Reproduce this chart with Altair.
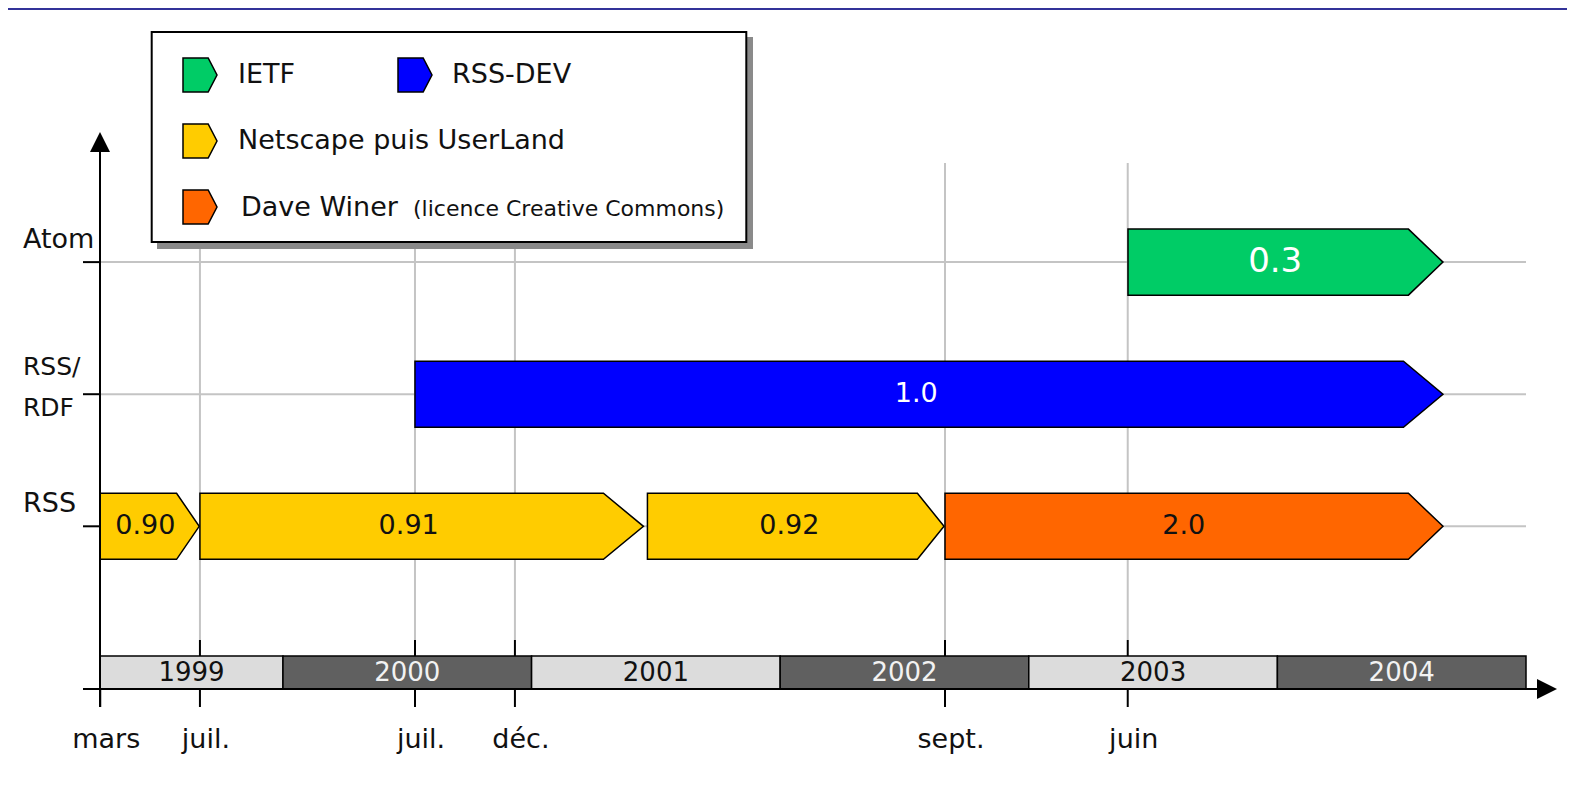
import altair as alt
import pandas as pd

# ---------------- data ----------------
row_names = ["RSS", "RSS/RDF", "Atom"]
row_index = [0, 1, 2]

versions = ["0.90", "0.91", "0.92", "2.0", "1.0", "0.3"]
version_rows = [0, 0, 0, 0, 1, 2]
owners = ["Netscape puis UserLand", "Netscape puis UserLand", "Netscape puis UserLand",
          "Dave Winer", "RSS-DEV", "IETF"]
starts = [1999.265, 1999.666, 2001.466, 2002.663, 2000.531, 2003.399]
shoulders = [1999.572, 2001.289, 2002.552, 2004.527, 2004.507, 2004.527]
ends = [1999.663, 2001.450, 2002.659, 2004.666, 2004.666, 2004.666]

owner_names = ["IETF", "RSS-DEV", "Netscape puis UserLand", "Dave Winer"]
owner_colors = ["#00CC66", "#0000FF", "#FFCC00", "#FF6600"]

tick_labels = ["mars", "juil.", "juil.", "déc.", "sept.", "juin"]
tick_pos = [1999.265, 1999.666, 2000.531, 2000.933, 2002.663, 2003.398]

years = [1999, 2000, 2001, 2002, 2003, 2004]
year_start = [1999.264, 2000, 2001, 2002, 2003, 2004]
year_end = [2000, 2001, 2002, 2003, 2004, 2005]

# ---------------- layout ----------------
X_DOMAIN = [1999.264, 2005.0]
Y_DOMAIN = [-1.2317, 2.985]
W, H = 1426, 557
HALF = 0.25
FONT = "DejaVu Sans"
GRID = "#c4c4c4"
INK = "#111111"

xs = alt.Scale(domain=X_DOMAIN, nice=False, zero=False)
ys = alt.Scale(domain=Y_DOMAIN, nice=False, zero=False)


def X(f):
    return alt.X(f, type="quantitative", scale=xs, axis=None)


def Y(f):
    return alt.Y(f, type="quantitative", scale=ys, axis=None)


rows_df = pd.DataFrame({"name": row_names, "row": row_index})
ticks_df = pd.DataFrame({"label": tick_labels, "pos": tick_pos})
grid_df = ticks_df.iloc[1:]
years_df = pd.DataFrame({"year": years, "start": year_start, "end": year_end})
years_df["mid"] = (years_df["start"] + years_df["end"]) / 2

recs = []
for v, r, o, s, sh, e in zip(versions, version_rows, owners, starts, shoulders, ends):
    recs.append(dict(version=v, owner=o, x=s, lo=r - HALF, hi=r + HALF))
    recs.append(dict(version=v, owner=o, x=sh, lo=r - HALF, hi=r + HALF))
    recs.append(dict(version=v, owner=o, x=e, lo=r, hi=r))
area_df = pd.DataFrame(recs)
lab_df = pd.DataFrame({"version": versions, "row": version_rows,
                       "mid": [(s + sh) / 2 for s, sh in zip(starts, shoulders)]})
one = pd.DataFrame({"k": [0]})

layers = []

# top blue strip
layers.append(alt.Chart(one).mark_rect(color="#333399").encode(
    x=alt.value(-92), x2=alt.value(1467), y=alt.value(-124), y2=alt.value(-122)))

# gridlines
layers.append(alt.Chart(grid_df).mark_rule(color=GRID, strokeWidth=2).encode(
    x=X("pos"), y=alt.value(31), y2=alt.value(508)))
layers.append(alt.Chart(rows_df).mark_rule(color=GRID, strokeWidth=2).encode(
    y=Y("row"), x=alt.value(0), x2=alt.value(W)))

# tick segments
layers.append(alt.Chart(grid_df).mark_rule(color="black", strokeWidth=2).encode(
    x=X("pos"), y=alt.value(508), y2=alt.value(524)))
layers.append(alt.Chart(ticks_df).mark_rule(color="black", strokeWidth=2).encode(
    x=X("pos"), y=alt.value(557), y2=alt.value(575)))
layers.append(alt.Chart(rows_df).mark_rule(color="black", strokeWidth=2).encode(
    y=Y("row"), x=alt.value(-17), x2=alt.value(0)))

# year band
layers.append(alt.Chart(years_df).mark_rect(stroke="black", strokeWidth=1.5).encode(
    x=X("start"), x2="end", y=alt.value(524), y2=alt.value(557),
    fill=alt.condition("datum.year % 2 == 1", alt.value("#dcdcdc"), alt.value("#606060"))))
layers.append(alt.Chart(years_df).mark_text(font=FONT, fontSize=26, baseline="middle").encode(
    x=X("mid"), y=alt.value(541), text="year:N",
    color=alt.condition("datum.year % 2 == 1", alt.value(INK), alt.value("#f2f2f2"))))

# arrows (bars)
layers.append(alt.Chart(area_df).mark_area(stroke="black", strokeWidth=1.5, opacity=1,
                                           interpolate="linear").encode(
    x=X("x"),
    y=alt.Y("lo:Q", scale=ys, axis=None, stack=None),
    y2="hi:Q",
    detail="version:N",
    fill=alt.Fill("owner:N", scale=alt.Scale(domain=owner_names, range=owner_colors), legend=None)))
layers.append(alt.Chart(lab_df).mark_text(font=FONT, baseline="middle", dx=7).encode(
    x=X("mid"), y=Y("row"), text="version:N",
    color=alt.condition("datum.version == '1.0' || datum.version == '0.3'",
                        alt.value("white"), alt.value(INK)),
    size=alt.condition("datum.version == '0.3'", alt.value(34), alt.value(27))))

# axes lines and arrowheads
layers.append(alt.Chart(one).mark_rule(color="black", strokeWidth=2).encode(
    x=alt.value(0), y=alt.value(18), y2=alt.value(575)))
layers.append(alt.Chart(one).mark_rule(color="black", strokeWidth=2).encode(
    x=alt.value(-17), x2=alt.value(1440), y=alt.value(557)))
layers.append(alt.Chart(one).mark_point(shape="M0,-1L1,1L-1,1Z", size=400, filled=True,
                                        color="black", opacity=1).encode(
    x=alt.value(0), y=alt.value(10)))
layers.append(alt.Chart(one).mark_point(shape="M1,0L-1,-1L-1,1Z", size=400, filled=True,
                                        color="black", opacity=1).encode(
    x=alt.value(1447), y=alt.value(557)))

# axis labels
layers.append(alt.Chart(ticks_df).mark_text(font=FONT, fontSize=27, baseline="alphabetic",
                                            dx=6, color=INK).encode(
    x=X("pos"), y=alt.value(616), text="label:N"))
layers.append(alt.Chart(rows_df).transform_filter("datum.name != 'RSS/RDF'").mark_text(
    font=FONT, fontSize=27, align="left", baseline="alphabetic", dy=-14, color=INK).encode(
    x=alt.value(-77), y=Y("row"), text="name:N"))
layers.append(alt.Chart(rows_df).transform_filter("datum.name == 'RSS/RDF'").mark_text(
    font=FONT, fontSize=25, align="left", baseline="middle", dy=-27, lineHeight=41,
    color=INK).encode(
    x=alt.value(-77), y=Y("row"), text=alt.value(["RSS/", "RDF"])))

# legend box
layers.append(alt.Chart(one).mark_rect(color="#8a8a8a").encode(
    x=alt.value(57), x2=alt.value(653), y=alt.value(-95), y2=alt.value(117)))
layers.append(alt.Chart(one).mark_rect(fill="white", stroke="black", strokeWidth=2).encode(
    x=alt.value(51.7), x2=alt.value(646.3), y=alt.value(-99.9), y2=alt.value(110)))

ICON = "M-1,-1L0.48,-1L1,0L0.48,1L-1,1Z"
legend_items = [
    ("IETF", 100, -57),
    ("RSS-DEV", 315, -57),
    ("Netscape puis UserLand", 100, 9),
    ("Dave Winer", 100, 75),
]
for name, px, py in legend_items:
    col = owner_colors[owner_names.index(name)]
    layers.append(alt.Chart(one).mark_point(shape=ICON, size=1156, filled=True, fill=col,
                                            stroke="black", strokeWidth=1.5, opacity=1).encode(
        x=alt.value(px), y=alt.value(py)))

layers.append(alt.Chart(one).mark_text(font=FONT, fontSize=27, align="left", baseline="middle",
                                       color=INK, text="IETF").encode(
    x=alt.value(138), y=alt.value(-57)))
layers.append(alt.Chart(one).mark_text(font=FONT, fontSize=27, align="left", baseline="middle",
                                       color=INK, text="RSS-DEV").encode(
    x=alt.value(352), y=alt.value(-57)))
layers.append(alt.Chart(one).mark_text(font=FONT, fontSize=27, align="left", baseline="middle",
                                       color=INK, text="Netscape puis UserLand").encode(
    x=alt.value(138), y=alt.value(9)))
layers.append(alt.Chart(one).mark_text(font=FONT, fontSize=27, align="left", baseline="alphabetic",
                                       color=INK, text="Dave Winer").encode(
    x=alt.value(141), y=alt.value(84)))
layers.append(alt.Chart(one).mark_text(font=FONT, fontSize=22, align="left", baseline="alphabetic",
                                       color=INK, text="(licence Creative Commons)").encode(
    x=alt.value(313), y=alt.value(84)))

chart = alt.layer(*layers).properties(
    width=W, height=H,
    padding={"left": 92, "top": 124, "right": 41, "bottom": 89},
    autosize=alt.AutoSizeParams(type="none"),
    background="white",
).configure_view(strokeWidth=0)

chart.save("out.html", embed_options={"renderer": "svg", "actions": False})
